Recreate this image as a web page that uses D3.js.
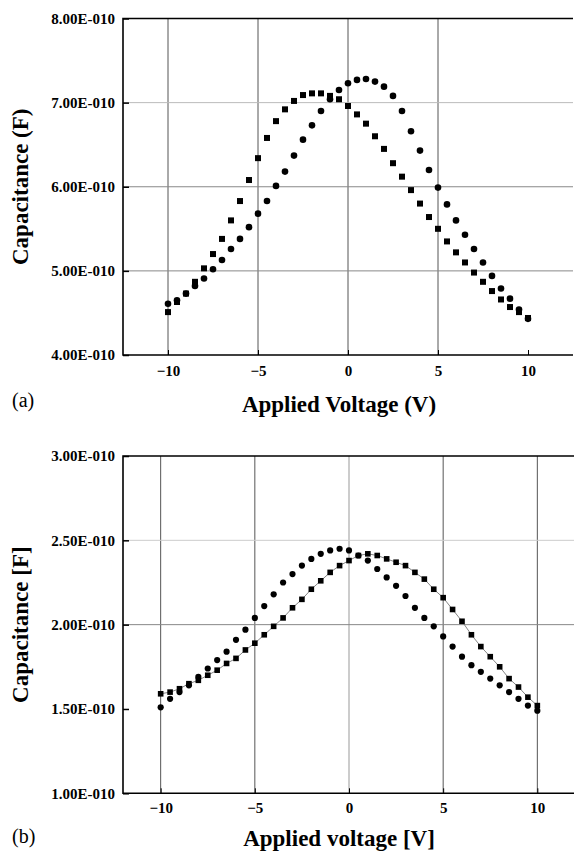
<!DOCTYPE html>
<html>
<head>
<meta charset="utf-8">
<script src="https://cdn.jsdelivr.net/npm/d3@7"></script>
<style>
  body { margin: 0; background: #fff; }
  svg { display: block; font-family: "Liberation Serif", "Times New Roman", serif; }
  .domain { display: none; }
</style>
</head>
<body>
<div id="chart"></div>
<script>
// applied voltage, shared by every series (V)
var voltage = d3.range(41).map(function(i){ return -10 + i * 0.5; });

// capacitance in units of 1E-10 F
var capASquares = [4.51,4.63,4.73,4.87,5.03,5.20,5.38,5.60,5.83,6.08,6.34,6.58,6.78,6.92,7.02,7.09,7.11,7.11,7.08,7.04,
                   6.96,6.86,6.75,6.60,6.45,6.28,6.12,5.96,5.80,5.64,5.50,5.35,5.22,5.10,4.98,4.87,4.76,4.66,4.57,4.51,4.44];
var capACircles = [4.61,4.65,4.73,4.82,4.91,5.02,5.13,5.26,5.38,5.52,5.68,5.83,6.01,6.18,6.37,6.56,6.73,6.90,7.04,7.15,
                   7.23,7.27,7.28,7.25,7.19,7.08,6.90,6.66,6.43,6.20,5.99,5.79,5.60,5.43,5.26,5.10,4.94,4.79,4.67,4.54,4.43];
var capBSquares = [1.59,1.60,1.62,1.65,1.67,1.70,1.73,1.77,1.80,1.85,1.89,1.94,1.99,2.04,2.10,2.15,2.21,2.26,2.31,2.35,
                   2.38,2.41,2.42,2.41,2.39,2.37,2.35,2.31,2.27,2.21,2.16,2.09,2.02,1.94,1.87,1.81,1.75,1.68,1.63,1.57,1.52];
var capBCircles = [1.51,1.56,1.60,1.64,1.69,1.74,1.79,1.84,1.91,1.97,2.04,2.11,2.18,2.25,2.30,2.35,2.39,2.42,2.44,2.45,
                   2.44,2.41,2.38,2.33,2.28,2.23,2.17,2.10,2.04,1.99,1.93,1.87,1.81,1.76,1.72,1.68,1.64,1.60,1.56,1.52,1.49];

// tick values and labels
var xTicks = [-10, -5, 0, 5, 10];
var yTicksA = [4, 5, 6, 7, 8];
var yLabelsA = ["4.00E-010", "5.00E-010", "6.00E-010", "7.00E-010", "8.00E-010"];
var yTicksB = [1.0, 1.5, 2.0, 2.5, 3.0];
var yLabelsB = ["1.00E-010", "1.50E-010", "2.00E-010", "2.50E-010", "3.00E-010"];

var serif = "'Liberation Serif', 'Times New Roman', serif";

var svg = d3.select("#chart")
    .append("svg")
      .attr("width", 574)
      .attr("height", 852);

function drawPanel(opt){
  var x = d3.scaleLinear().domain(opt.xDomain).range([opt.left, opt.right]),
      y = d3.scaleLinear().domain(opt.yDomain).range([opt.bottom, opt.top]);

  var g = svg.append("g");

  // vertical grid lines
  g.selectAll(".vgrid")
    .data(opt.vGrid)
    .enter().append("line")
      .attr("x1", function(d){ return x(d); })
      .attr("x2", function(d){ return x(d); })
      .attr("y1", opt.top)
      .attr("y2", opt.bottom)
      .attr("stroke", function(d){ return d == 0 && opt.lightZero ? "#999" : "#555"; })
      .attr("stroke-width", 1);

  // horizontal grid lines
  g.selectAll(".hgrid")
    .data(opt.hGrid)
    .enter().append("line")
      .attr("x1", opt.left)
      .attr("x2", opt.right)
      .attr("y1", function(d){ return y(d.v); })
      .attr("y2", function(d){ return y(d.v); })
      .attr("stroke", function(d){ return d.c; })
      .attr("stroke-width", 1);

  // y-axis with inward ticks
  var yAxis = g.append("g")
      .attr("transform", "translate(" + opt.left + ",0)")
      .call(d3.axisLeft(y)
              .tickValues(opt.yTicks)
              .tickSize(-6)
              .tickPadding(8)
              .tickFormat(function(d, i){ return opt.yLabels[i]; }))
      .attr("font-family", serif)
      .attr("font-size", 15)
      .attr("font-weight", "bold");
  yAxis.selectAll(".tick line")
      .attr("stroke", "#000")
      .attr("stroke-width", 1.5);

  // x-axis
  var xAxis = g.append("g")
      .attr("transform", "translate(0," + opt.bottom + ")")
      .call(d3.axisBottom(x)
              .tickValues(xTicks)
              .tickSize(-5)
              .tickPadding(opt.xPad)
              .tickFormat(d3.format("d")))
      .attr("font-family", serif)
      .attr("font-size", 15)
      .attr("font-weight", "bold");
  xAxis.selectAll(".tick line")
      .attr("stroke", "#000");

  // frame: left, bottom and top lines
  g.append("path")
      .attr("d", "M" + opt.right + "," + opt.top + "H" + opt.left + "V" + opt.bottom + "H" + opt.right)
      .attr("fill", "none")
      .attr("stroke", "#000")
      .attr("stroke-width", 1.6);

  // thin line through the squares (panel b only)
  if (opt.joinSquares) {
    g.append("path")
        .datum(opt.squares)
        .attr("fill", "none")
        .attr("stroke", "#666")
        .attr("stroke-width", 0.8)
        .attr("d", d3.line()
          .x(function(d, i){ return x(voltage[i]); })
          .y(function(d){ return y(d); }));
  }

  g.selectAll(".sq")
    .data(opt.squares)
    .enter().append("rect")
      .attr("x", function(d, i){ return x(voltage[i]) - opt.sq / 2; })
      .attr("y", function(d){ return y(d) - opt.sq / 2; })
      .attr("width", opt.sq)
      .attr("height", opt.sq)
      .attr("fill", "#000");

  g.selectAll(".ci")
    .data(opt.circles)
    .enter().append("circle")
      .attr("cx", function(d, i){ return x(voltage[i]); })
      .attr("cy", function(d){ return y(d); })
      .attr("r", opt.r)
      .attr("fill", "#000");

  // axis titles
  g.append("text")
      .attr("x", (opt.left + 575) / 2 - 10)
      .attr("y", opt.titleY)
      .attr("text-anchor", "middle")
      .attr("font-weight", "bold")
      .attr("font-size", "23px")
      .text(opt.xTitle);

  g.append("text")
      .attr("transform", "translate(28," + (opt.top + opt.bottom) / 2 + ") rotate(-90)")
      .attr("text-anchor", "middle")
      .attr("font-weight", "bold")
      .attr("font-size", "23px")
      .text(opt.yTitle);

  g.append("text")
      .attr("x", 12)
      .attr("y", opt.tagY)
      .attr("font-size", "20px")
      .text(opt.tag);
}

drawPanel({
  xDomain: [-12.5, 12.5], yDomain: [4, 8],
  left: 123, right: 573, top: 18.5, bottom: 355,
  vGrid: [-10, -5, 0, 5],
  hGrid: [{v: 5, c: "#888"}, {v: 6, c: "#888"}, {v: 7, c: "#bbb"}],
  yTicks: yTicksA, yLabels: yLabelsA, xPad: 10,
  squares: capASquares, circles: capACircles,
  sq: 6, r: 3.3, joinSquares: false,
  xTitle: "Applied Voltage (V)", yTitle: "Capacitance (F)",
  titleY: 412, tag: "(a)", tagY: 407
});

drawPanel({
  xDomain: [-12, 12], yDomain: [1, 3],
  left: 123, right: 575, top: 456, bottom: 793.3,
  vGrid: [-10, -5, 0, 5, 10], lightZero: true,
  hGrid: [{v: 2.0, c: "#888"}, {v: 2.5, c: "#ccc"}],
  yTicks: yTicksB, yLabels: yLabelsB, xPad: 9,
  squares: capBSquares, circles: capBCircles,
  sq: 5.6, r: 3.1, joinSquares: true,
  xTitle: "Applied voltage [V]", yTitle: "Capacitance [F]",
  titleY: 846, tag: "(b)", tagY: 843
});
</script>
</body>
</html>
